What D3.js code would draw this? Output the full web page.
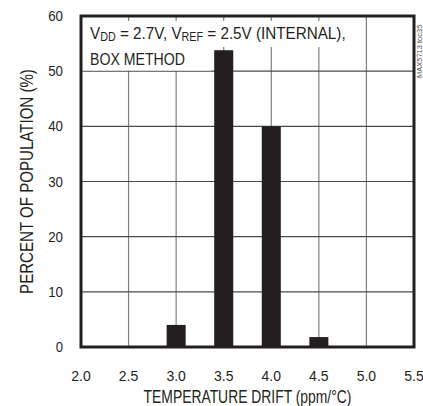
<!DOCTYPE html>
<html><head><meta charset="utf-8">
<script src="https://cdn.jsdelivr.net/npm/d3@7"></script>
<style>body{margin:0;background:#fff}svg{display:block}text{font-family:"Liberation Sans Narrow","Liberation Sans",Arial,sans-serif;fill:#231f20}</style>
</head><body><div id="chart"></div>
<script>
const drift = [3.0, 3.5, 4.0, 4.5];
const percent = [4, 53.8, 40, 1.8];
const xTicks = [2.0, 2.5, 3.0, 3.5, 4.0, 4.5, 5.0, 5.5];
const yTicks = [0, 10, 20, 30, 40, 50, 60];

const W = 423, H = 406;
const m = {left: 81, right: 9, top: 16, bottom: 59};
const svg = d3.select("#chart").append("svg").attr("width", W).attr("height", H);
const x = d3.scaleLinear().domain([2.0, 5.5]).range([m.left, W - m.right]);
const y = d3.scaleLinear().domain([0, 60]).range([H - m.bottom, m.top]);
const dark = "#231f20";

// place text at (px,py) with optional rotation, horizontally condensed to target width
function fitText(parent, px, py, rot, target, size, anchor, build) {
  const t = parent.append("text").attr("font-size", size).attr("text-anchor", anchor);
  build(t);
  const w = t.node().getBBox().width;
  const s = target ? Math.min(1, target / w) : 1;
  t.attr("transform", `translate(${px},${py}) rotate(${rot}) scale(${s},1)`);
  return t;
}

// grid
svg.append("g").selectAll("line").data(xTicks.slice(1, -1)).join("line")
  .attr("x1", d => x(d)).attr("x2", d => x(d)).attr("y1", y(60)).attr("y2", y(0))
  .attr("stroke", "#808080").attr("stroke-width", 1.2);
svg.append("g").selectAll("line").data(yTicks.slice(1, -1)).join("line")
  .attr("x1", x(2)).attr("x2", x(5.5)).attr("y1", d => y(d)).attr("y2", d => y(d))
  .attr("stroke", "#4a4a4a").attr("stroke-width", 1.2);

// annotation
const ann = svg.append("g");
const bg1 = ann.append("rect").attr("fill", "#fff");
const bg2 = ann.append("rect").attr("fill", "#fff");
svg.append("g").selectAll("line").data(xTicks.slice(1, -1)).join("line")
  .attr("x1", d => x(d)).attr("x2", d => x(d)).attr("y1", y(60)).attr("y2", y(60) + 5)
  .attr("stroke", "#808080").attr("stroke-width", 1.2);

const t1 = fitText(ann, 90, 39, 0, 256, 17, "start", t => {
  t.append("tspan").text("V");
  t.append("tspan").text("DD").attr("font-size", 12).attr("dy", 1.5);
  t.append("tspan").text(" = 2.7V, V").attr("dy", -1.5);
  t.append("tspan").text("REF").attr("font-size", 12).attr("dy", 1.5);
  t.append("tspan").text(" = 2.5V (INTERNAL),").attr("dy", -1.5);
});
fitText(ann, 90, 65, 0, 95, 17, "start", t => t.text("BOX METHOD"));
bg1.attr("x", x(2)).attr("y", y(60)).attr("width", 352 - x(2)).attr("height", 47 - y(60));
bg2.attr("x", x(2)).attr("y", y(60)).attr("width", x(3.5) - 12 - x(2)).attr("height", y(50) - y(60) - 0.6);

// bars
const bw = 0.2;
svg.append("g").selectAll("rect").data(drift).join("rect")
  .attr("x", d => x(d - bw / 2)).attr("width", x(2 + bw) - x(2))
  .attr("y", (d, i) => y(percent[i])).attr("height", (d, i) => y(0) - y(percent[i]))
  .attr("fill", dark);

// border
svg.append("rect").attr("x", x(2)).attr("y", y(60)).attr("width", x(5.5) - x(2)).attr("height", y(0) - y(60))
  .attr("fill", "none").attr("stroke", dark).attr("stroke-width", 3);

// tick labels
yTicks.forEach(d => fitText(svg, 63, y(d) + 5, 0, 15 * String(d).length / 2, 14, "end", t => t.text(d)));
xTicks.forEach(d => fitText(svg, x(d), 381, 0, 20, 14, "middle", t => t.text(d.toFixed(1))));

// titles
fitText(svg, (x(2) + x(5.5)) / 2, 403, 0, 208, 18, "middle", t => t.text("TEMPERATURE DRIFT (ppm/°C)"));
fitText(svg, 33, (y(0) + y(60)) / 2, -90, 225, 18, "middle", t => t.text("PERCENT OF POPULATION (%)"));
fitText(svg, 422, 78, -90, 62, 7.5, "start", t => t.style("fill", "#555").text("MAX5713 toc35"));
</script></body></html>
